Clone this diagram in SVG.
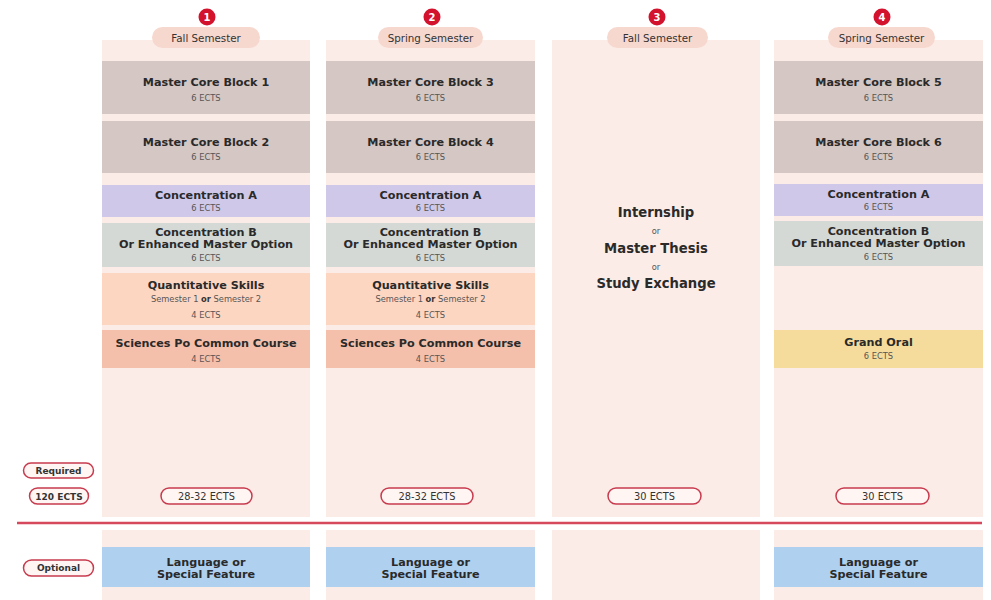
<svg xmlns="http://www.w3.org/2000/svg" width="991" height="600" viewBox="0 0 991 600">
<style>
text{font-family:"DejaVu Sans","Liberation Sans",Arial,sans-serif;text-anchor:middle;fill:#2a2a2a}
.t{font-size:11.2px;font-weight:700}
.big{font-size:13.2px;font-weight:700}
.s{font-size:8.3px;fill:#555}
.h{font-size:10.3px;fill:#333}
.p{font-size:9.8px;fill:#333}
.pb{font-size:9px;font-weight:700;fill:#333}
.n{font-size:10px;font-weight:700;fill:#fff}
.col{fill:#fcece7}
.hp{fill:#f7d8cf}
.bd{fill:#d3132d}
.mc{fill:#d4c7c4}
.ca{fill:#d0c8e8}
.cb{fill:#d4d9d6}
.qs{fill:#fdd6c2}
.sp{fill:#f5c0ab}
.go{fill:#f6dc9c}
.lg{fill:#afd0ef}
.pill{fill:#fff6f4;stroke:#c83a4d;stroke-width:1.5}
</style>
<rect width="991" height="600" fill="#ffffff"/>
<g id="columns">
<rect class="col" x="102" y="40" width="208" height="477"/>
<rect class="col" x="326" y="40" width="209" height="477"/>
<rect class="col" x="552" y="40" width="208" height="477"/>
<rect class="col" x="774" y="40" width="209" height="477"/>
<rect class="col" x="102" y="530" width="208" height="70"/>
<rect class="col" x="326" y="530" width="209" height="70"/>
<rect class="col" x="552" y="530" width="208" height="70"/>
<rect class="col" x="774" y="530" width="209" height="70"/>
</g>
<g id="sem1-header">
<rect class="hp" x="152" y="27" width="108" height="21" rx="10.5"/>
<text class="h" x="206" y="41.5">Fall Semester</text>
<circle class="bd" cx="207" cy="17" r="8.5"/>
<text class="n" x="207" y="21">1</text>
</g>
<g id="sem2-header">
<rect class="hp" x="378" y="27" width="105" height="21" rx="10.5"/>
<text class="h" x="430.5" y="41.5">Spring Semester</text>
<circle class="bd" cx="432" cy="17" r="8.5"/>
<text class="n" x="432" y="21">2</text>
</g>
<g id="sem3-header">
<rect class="hp" x="607" y="27" width="101" height="21" rx="10.5"/>
<text class="h" x="657.5" y="41.5">Fall Semester</text>
<circle class="bd" cx="657" cy="17" r="8.5"/>
<text class="n" x="657" y="21">3</text>
</g>
<g id="sem4-header">
<rect class="hp" x="828" y="27" width="107" height="21" rx="10.5"/>
<text class="h" x="881.5" y="41.5">Spring Semester</text>
<circle class="bd" cx="882" cy="17" r="8.5"/>
<text class="n" x="882" y="21">4</text>
</g>
<g id="mcb1"><rect class="mc" x="102" y="61" width="208" height="53"/><text class="t" x="206" y="86">Master Core Block 1</text><text class="s" x="206" y="101">6 ECTS</text></g>
<g id="mcb2"><rect class="mc" x="102" y="121" width="208" height="52"/><text class="t" x="206" y="146">Master Core Block 2</text><text class="s" x="206" y="160">6 ECTS</text></g>
<g id="ca1"><rect class="ca" x="102" y="185" width="208" height="32"/><text class="t" x="206" y="199">Concentration A</text><text class="s" x="206" y="211">6 ECTS</text></g>
<g id="cb1"><rect class="cb" x="102" y="223" width="208" height="44"/><text class="t" x="206" y="236">Concentration B</text><text class="t" x="206" y="248">Or Enhanced Master Option</text><text class="s" x="206" y="261">6 ECTS</text></g>
<g id="qs1"><rect class="qs" x="102" y="273" width="208" height="52"/><text class="t" x="206" y="289">Quantitative Skills</text><text class="s" x="206" y="302">Semester 1 <tspan font-weight="700" fill="#333">or</tspan> Semester 2</text><text class="s" x="206" y="318">4 ECTS</text></g>
<g id="sp1"><rect class="sp" x="102" y="330" width="208" height="38"/><text class="t" x="206" y="347">Sciences Po Common Course</text><text class="s" x="206" y="362">4 ECTS</text></g>
<g id="mcb3"><rect class="mc" x="326" y="61" width="209" height="53"/><text class="t" x="430.5" y="86">Master Core Block 3</text><text class="s" x="430.5" y="101">6 ECTS</text></g>
<g id="mcb4"><rect class="mc" x="326" y="121" width="209" height="52"/><text class="t" x="430.5" y="146">Master Core Block 4</text><text class="s" x="430.5" y="160">6 ECTS</text></g>
<g id="ca2"><rect class="ca" x="326" y="185" width="209" height="32"/><text class="t" x="430.5" y="199">Concentration A</text><text class="s" x="430.5" y="211">6 ECTS</text></g>
<g id="cb2"><rect class="cb" x="326" y="223" width="209" height="44"/><text class="t" x="430.5" y="236">Concentration B</text><text class="t" x="430.5" y="248">Or Enhanced Master Option</text><text class="s" x="430.5" y="261">6 ECTS</text></g>
<g id="qs2"><rect class="qs" x="326" y="273" width="209" height="52"/><text class="t" x="430.5" y="289">Quantitative Skills</text><text class="s" x="430.5" y="302">Semester 1 <tspan font-weight="700" fill="#333">or</tspan> Semester 2</text><text class="s" x="430.5" y="318">4 ECTS</text></g>
<g id="sp2"><rect class="sp" x="326" y="330" width="209" height="38"/><text class="t" x="430.5" y="347">Sciences Po Common Course</text><text class="s" x="430.5" y="362">4 ECTS</text></g>
<g id="sem3-options">
<text class="big" x="656" y="217">Internship</text>
<text class="s" x="656" y="234">or</text>
<text class="big" x="656" y="253">Master Thesis</text>
<text class="s" x="656" y="270">or</text>
<text class="big" x="656" y="288">Study Exchange</text>
</g>
<g id="mcb5"><rect class="mc" x="774" y="61" width="209" height="53"/><text class="t" x="878.5" y="86">Master Core Block 5</text><text class="s" x="878.5" y="101">6 ECTS</text></g>
<g id="mcb6"><rect class="mc" x="774" y="121" width="209" height="52"/><text class="t" x="878.5" y="146">Master Core Block 6</text><text class="s" x="878.5" y="160">6 ECTS</text></g>
<g id="ca4"><rect class="ca" x="774" y="184" width="209" height="32"/><text class="t" x="878.5" y="198">Concentration A</text><text class="s" x="878.5" y="210">6 ECTS</text></g>
<g id="cb4"><rect class="cb" x="774" y="221" width="209" height="45"/><text class="t" x="878.5" y="235">Concentration B</text><text class="t" x="878.5" y="247">Or Enhanced Master Option</text><text class="s" x="878.5" y="260">6 ECTS</text></g>
<g id="go4"><rect class="go" x="774" y="330" width="209" height="38"/><text class="t" x="878.5" y="346">Grand Oral</text><text class="s" x="878.5" y="359">6 ECTS</text></g>
<g id="legend">
<rect class="pill" x="23.5" y="463" width="70" height="15" rx="7.5"/><text class="pb" x="58.5" y="473.5">Required</text>
<rect class="pill" x="29.5" y="488" width="59" height="16" rx="8"/><text class="pb" x="59" y="499.5">120 ECTS</text>
<rect class="pill" x="23.5" y="560" width="70" height="16" rx="8"/><text class="pb" x="58.5" y="571">Optional</text>
</g>
<g id="totals">
<rect class="pill" x="161" y="488" width="91" height="16" rx="8"/><text class="p" x="206.5" y="499.5">28-32 ECTS</text>
<rect class="pill" x="381" y="488" width="92" height="16" rx="8"/><text class="p" x="427" y="499.5">28-32 ECTS</text>
<rect class="pill" x="608" y="488" width="93" height="16" rx="8"/><text class="p" x="654.5" y="499.5">30 ECTS</text>
<rect class="pill" x="836" y="488" width="93" height="16" rx="8"/><text class="p" x="882.5" y="499.5">30 ECTS</text>
</g>
<g id="connectors">
<line x1="17" y1="523" x2="982" y2="523" stroke="#d6485b" stroke-width="2.5"/>
</g>
<g id="lang1"><rect class="lg" x="102" y="547" width="208" height="40"/><text class="t" x="206" y="566">Language or</text><text class="t" x="206" y="578">Special Feature</text></g>
<g id="lang2"><rect class="lg" x="326" y="547" width="209" height="40"/><text class="t" x="430.5" y="566">Language or</text><text class="t" x="430.5" y="578">Special Feature</text></g>
<g id="lang4"><rect class="lg" x="774" y="547" width="209" height="40"/><text class="t" x="878.5" y="566">Language or</text><text class="t" x="878.5" y="578">Special Feature</text></g>
</svg>
